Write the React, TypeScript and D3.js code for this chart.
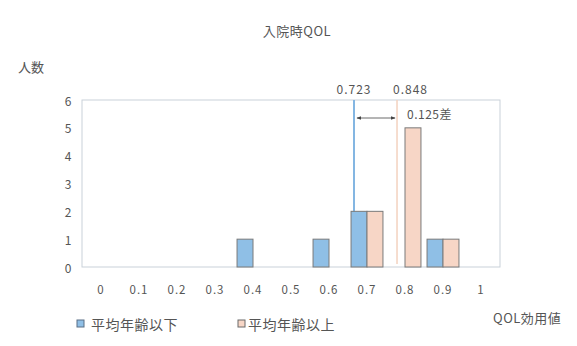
import React from "react";
import * as d3 from "d3";

const categories = ["0", "0.1", "0.2", "0.3", "0.4", "0.5", "0.6", "0.7", "0.8", "0.9", "1"];
const belowAvg = [0, 0, 0, 0, 1, 0, 1, 2, 0, 1, 0];
const aboveAvg = [0, 0, 0, 0, 0, 0, 0, 2, 5, 1, 0];
const seriesNames = ["平均年齢以下", "平均年齢以上"];
const yTicks = [0, 1, 2, 3, 4, 5, 6];
const meanBelow = 0.723;
const meanAbove = 0.848;
const meanDiffLabel = "0.125差";

const W = 577;
const H = 346;
const M = { left: 82, right: 77, top: 100, bottom: 79 };
const FONT = "'Noto Sans CJK JP', 'Noto Sans', sans-serif";
const TXT = "#555";
const BLUE = "#8fbfe6";
const PEACH = "#f7d6c6";
const EDGE = "#7a7a7a";

export default function App() {
  const x = d3
    .scaleBand<string>()
    .domain(categories)
    .range([M.left, W - M.right])
    .paddingInner(0)
    .paddingOuter(0);
  const step = x.step();
  const barW = step * 0.42;
  const y = d3.scaleLinear().domain([0, 6]).range([H - M.bottom, M.top]);
  // Positions for the group mean markers along the QOL value axis
  const meanX = d3.scaleLinear().domain([0, 1]).range([M.left + 23.3, M.left + 367.3]);
  const xb = meanX(meanBelow);
  const xa = meanX(meanAbove);
  const arrowY = 118;

  return (
    <svg width={W} height={H} style={{ display: "block", position: "absolute", left: 0, top: 0, background: "#fff" }}>
      <defs>
        <marker id="ah" viewBox="0 0 8 8" refX="7" refY="4" markerWidth="6" markerHeight="6" orient="auto-start-reverse">
          <path d="M0,1 L8,4 L0,7 Z" fill="#444" />
        </marker>
      </defs>
      <rect x={0} y={0} width={W} height={H} fill="#fff" />
      <text x={297} y={30} textAnchor="middle" dominantBaseline="central" fontFamily={FONT} fontSize={13} letterSpacing={0.5} fill={TXT}>
        入院時QOL
      </text>
      <text x={18} y={66} dominantBaseline="central" fontFamily={FONT} fontSize={13} fill={TXT}>
        人数
      </text>

      {/* plot frame */}
      <rect
        x={M.left}
        y={M.top}
        width={W - M.right - M.left}
        height={H - M.bottom - M.top}
        fill="none"
        stroke="#c9d1d9"
        strokeWidth={1}
      />

      {yTicks.map((t) => (
        <text key={t} x={68} y={y(t)} textAnchor="middle" dominantBaseline="central" fontFamily={FONT} fontSize={12} fill={TXT}>
          {t}
        </text>
      ))}

      {categories.map((c) => (
        <text
          key={c}
          x={(x(c) ?? 0) + step / 2}
          y={289}
          textAnchor="middle"
          dominantBaseline="central"
          fontFamily={FONT}
          fontSize={11.5}
          letterSpacing={1}
          fill={TXT}
        >
          {c}
        </text>
      ))}

      {/* mean lines */}
      <line x1={xb} x2={xb} y1={M.top} y2={y(0)} stroke="#84b6e2" strokeWidth={2} />
      <line x1={xa} x2={xa} y1={M.top} y2={y(0) - 3} stroke="#f3d2bf" strokeWidth={1.5} />

      {categories.map((c, i) => {
        const cx = (x(c) ?? 0) + step / 2;
        return (
          <g key={c}>
            {belowAvg[i] > 0 && (
              <rect x={cx - barW} y={y(belowAvg[i])} width={barW} height={y(0) - y(belowAvg[i])} fill={BLUE} stroke={EDGE} strokeWidth={1} />
            )}
            {aboveAvg[i] > 0 && (
              <rect x={cx} y={y(aboveAvg[i])} width={barW} height={y(0) - y(aboveAvg[i])} fill={PEACH} stroke={EDGE} strokeWidth={1} />
            )}
          </g>
        );
      })}

      <text x={xb} y={88} textAnchor="middle" dominantBaseline="central" fontFamily={FONT} fontSize={12} letterSpacing={1} fill={TXT}>
        {meanBelow.toFixed(3)}
      </text>
      <text x={xa - 4} y={88} textAnchor="start" dominantBaseline="central" fontFamily={FONT} fontSize={12} letterSpacing={1} fill={TXT}>
        {meanAbove.toFixed(3)}
      </text>
      <line x1={xb + 3} x2={xa - 2} y1={arrowY} y2={arrowY} stroke="#444" strokeWidth={0.8} markerStart="url(#ah)" markerEnd="url(#ah)" />
      <text x={407} y={113} textAnchor="start" dominantBaseline="central" fontFamily={FONT} fontSize={12} letterSpacing={0.5} fill={TXT}>
        {meanDiffLabel}
      </text>

      {/* legend */}
      <rect x={77} y={320} width={7} height={7} fill={BLUE} stroke="#5a6f85" strokeWidth={1} />
      <text x={91} y={324} dominantBaseline="central" fontFamily={FONT} fontSize={14} letterSpacing={0.5} fill={TXT}>
        {seriesNames[0]}
      </text>
      <rect x={238} y={320} width={7} height={7} fill={PEACH} stroke="#6a6a6a" strokeWidth={1} />
      <text x={248} y={324} dominantBaseline="central" fontFamily={FONT} fontSize={14} letterSpacing={0.5} fill={TXT}>
        {seriesNames[1]}
      </text>
      <text x={493} y={317} dominantBaseline="central" fontFamily={FONT} fontSize={13} letterSpacing={0.5} fill={TXT}>
        QOL効用値
      </text>
    </svg>
  );
}
